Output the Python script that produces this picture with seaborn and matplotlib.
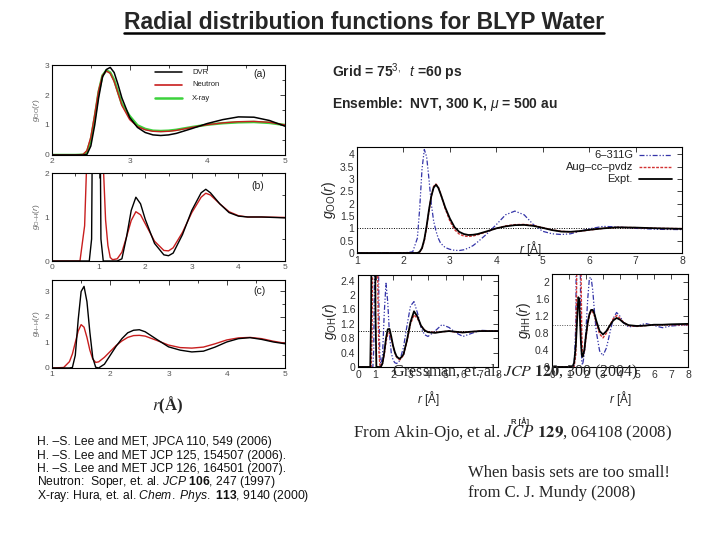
import matplotlib
matplotlib.use('Agg')
import matplotlib.pyplot as plt
import seaborn as sns
from matplotlib.lines import Line2D
from matplotlib.ticker import MultipleLocator, FormatStrFormatter

r_a = [2.0, 2.3, 2.4, 2.45, 2.5, 2.55, 2.6, 2.65, 2.7, 2.75, 2.8, 2.85, 2.9, 3.0,
       3.1, 3.2, 3.3, 3.4, 3.5, 3.6, 3.8, 4.0, 4.2, 4.4, 4.6, 4.8, 5.0]
oo_dvr = [0, 0, 0, 0.02, 0.3, 1.0, 1.9, 2.6, 2.85, 2.92, 2.75, 2.35, 1.9, 1.25,
          0.92, 0.75, 0.67, 0.65, 0.67, 0.72, 0.88, 1.05, 1.18, 1.27, 1.26, 1.15, 0.96]
oo_neutron = [0, 0, 0.02, 0.15, 0.6, 1.35, 2.15, 2.65, 2.8, 2.72, 2.45, 2.05, 1.65, 1.18,
              0.95, 0.84, 0.79, 0.78, 0.79, 0.82, 0.92, 1.01, 1.07, 1.11, 1.12, 1.09, 1.0]
oo_xray = [0, 0, 0.01, 0.1, 0.5, 1.25, 2.1, 2.65, 2.82, 2.75, 2.5, 2.1, 1.7, 1.3,
           0.99, 0.87, 0.81, 0.8, 0.81, 0.84, 0.93, 1.01, 1.06, 1.09, 1.1, 1.07, 1.0]

r_b = [0, 0.6, 0.7, 0.8, 0.85, 0.9, 0.95, 1.0, 1.05, 1.1, 1.15, 1.2, 1.25, 1.3, 1.4,
       1.5, 1.6, 1.7, 1.8, 1.9, 2.0, 2.2, 2.4, 2.5, 2.6, 2.8, 3.0, 3.2, 3.3, 3.4,
       3.6, 3.8, 4.0, 4.2, 4.5, 5.0]
oh_dvr = [0, 0, 0, 0, 0.5, 8, 20, 8, 0.5, 0, 0, 0, 0, 0, 0,
          0.05, 0.55, 1.15, 1.45, 1.3, 0.95, 0.4, 0.14, 0.12, 0.18, 0.6, 1.15, 1.55, 1.63, 1.55,
          1.3, 1.1, 1.02, 1.0, 1.0, 0.98]
oh_neutron = [0, 0, 0.8, 4, 8, 10, 10, 8, 4, 2.2, 0.93, 0.35, 0.08, 0.03, 0.05,
              0.2, 0.55, 0.92, 1.12, 1.05, 0.85, 0.45, 0.24, 0.23, 0.3, 0.65, 1.1, 1.45, 1.54, 1.5,
              1.3, 1.12, 1.03, 1.0, 1.0, 0.99]

r_c = [1.0, 1.2, 1.3, 1.35, 1.4, 1.45, 1.5, 1.55, 1.6, 1.65, 1.7, 1.75, 1.8, 1.9, 2.0,
       2.1, 2.2, 2.3, 2.4, 2.5, 2.6, 2.8, 3.0, 3.2, 3.4, 3.6, 3.8, 4.0, 4.2, 4.4,
       4.6, 4.8, 5.0]
hh_dvr = [0, 0, 0, 0.02, 0.5, 1.9, 3.0, 3.2, 2.6, 1.4, 0.4, 0.03, 0.0, 0.15, 0.5,
          0.85, 1.15, 1.38, 1.48, 1.5, 1.42, 1.12, 0.83, 0.7, 0.63, 0.66, 0.82, 1.02, 1.15, 1.19,
          1.12, 1.02, 0.95]
hh_neutron = [0, 0.02, 0.25, 0.55, 1.0, 1.45, 1.7, 1.6, 1.2, 0.7, 0.35, 0.22, 0.24, 0.42, 0.65,
              0.88, 1.06, 1.2, 1.27, 1.28, 1.25, 1.08, 0.9, 0.8, 0.78, 0.82, 0.95, 1.1, 1.18, 1.2,
              1.15, 1.05, 0.97]

# ---- right column: basis set comparison ----
r_oo = [1.0, 2.0, 2.2, 2.3, 2.35, 2.4, 2.45, 2.5, 2.55, 2.6, 2.65, 2.7, 2.75, 2.8, 2.9,
        3.0, 3.1, 3.2, 3.3, 3.4, 3.5, 3.6, 3.8, 4.0, 4.2, 4.4, 4.6, 4.8, 5.0, 5.2,
        5.4, 5.6, 5.8, 6.0, 6.3, 6.6, 7.0, 7.5, 8.0]
goo_expt = [0, 0, 0, 0, 0.05, 0.2, 0.55, 1.1, 1.75, 2.3, 2.65, 2.77, 2.65, 2.4, 1.85,
            1.4, 1.05, 0.86, 0.77, 0.73, 0.74, 0.77, 0.88, 1.0, 1.08, 1.13, 1.14, 1.1, 1.02, 0.93,
            0.87, 0.86, 0.89, 0.94, 1.0, 1.04, 1.03, 1.0, 0.98]
goo_aug = [0, 0, 0, 0, 0.04, 0.18, 0.5, 1.05, 1.7, 2.3, 2.7, 2.8, 2.68, 2.42, 1.8,
           1.3, 0.95, 0.77, 0.69, 0.67, 0.69, 0.74, 0.87, 1.0, 1.1, 1.15, 1.16, 1.12, 1.03, 0.94,
           0.88, 0.86, 0.88, 0.93, 1.0, 1.04, 1.03, 1.0, 0.99]
goo_small = [0, 0, 0.05, 0.6, 1.8, 3.4, 4.2, 3.9, 3.0, 2.0, 1.3, 0.9, 0.6, 0.4, 0.22,
             0.15, 0.11, 0.1, 0.13, 0.2, 0.3, 0.45, 0.78, 1.15, 1.55, 1.7, 1.55, 1.15, 0.88, 0.78,
             0.75, 0.78, 0.88, 0.98, 1.08, 1.06, 1.0, 0.96, 0.95]

r_oh = [0, 0.7, 0.75, 0.8, 0.85, 0.9, 0.95, 1.0, 1.05, 1.1, 1.15, 1.2, 1.25, 1.3, 1.4,
        1.5, 1.6, 1.7, 1.8, 1.9, 2.0, 2.1, 2.2, 2.3, 2.4, 2.6, 2.8, 3.0, 3.2, 3.4,
        3.6, 3.8, 4.0, 4.4, 4.8, 5.2, 5.6, 6.0, 6.4, 7.0, 8.0]
goh_expt = [0, 0, 1.5, 6, 10, 10, 6, 1.5, 0, 0, 0, 0, 0, 0, 0.1,
            0.4, 0.8, 1.05, 1.06, 0.85, 0.6, 0.42, 0.3, 0.25, 0.23, 0.35, 0.75, 1.25, 1.55, 1.4,
            1.15, 1.02, 0.97, 0.95, 0.98, 1.0, 0.98, 0.96, 0.98, 1.0, 1.0]
goh_aug = [0, 0, 0, 0.8, 4, 8, 10, 10, 8, 4, 1.5, 0.4, 0.05, 0.02, 0.1,
           0.35, 0.7, 0.92, 0.95, 0.8, 0.58, 0.4, 0.28, 0.22, 0.2, 0.33, 0.72, 1.2, 1.45, 1.35,
           1.15, 1.03, 0.98, 0.96, 0.98, 1.0, 0.97, 0.96, 0.98, 1.0, 1.0]
goh_small = [0, 0, 0, 0, 0, 0.5, 3, 8, 10, 8, 4, 1.5, 0.3, 0.05, 0.3,
             1.5, 2.33, 1.8, 0.9, 0.4, 0.2, 0.12, 0.1, 0.12, 0.2, 0.55, 1.15, 1.7, 1.82, 1.5,
             1.1, 0.9, 0.85, 1.0, 1.18, 1.1, 0.95, 0.85, 0.92, 1.02, 1.0]

r_hh = [0, 1.0, 1.2, 1.3, 1.4, 1.45, 1.5, 1.55, 1.6, 1.65, 1.7, 1.75, 1.8, 1.9, 2.0,
        2.1, 2.2, 2.3, 2.4, 2.5, 2.6, 2.8, 3.0, 3.2, 3.4, 3.6, 3.8, 4.0, 4.2, 4.5,
        5.0, 5.5, 6.0, 6.5, 7.0, 8.0]
ghh_expt = [0, 0, 0, 0.1, 0.5, 0.9, 1.3, 1.65, 1.6, 1.1, 0.6, 0.3, 0.24, 0.4, 0.75,
            1.05, 1.25, 1.35, 1.35, 1.25, 1.1, 0.85, 0.77, 0.85, 0.98, 1.1, 1.16, 1.12, 1.05, 0.99,
            0.97, 0.98, 1.0, 1.0, 1.01, 1.02]
ghh_aug = [0, 0, 0, 0, 0.3, 2.0, 6, 10, 10, 6, 2.5, 0.8, 0.25, 0.35, 0.7,
           1.0, 1.22, 1.32, 1.3, 1.2, 1.05, 0.78, 0.69, 0.8, 0.98, 1.14, 1.22, 1.15, 1.06, 0.98,
           0.96, 0.98, 1.0, 1.0, 1.0, 1.0]
ghh_small = [0, 0, 0, 0, 1.0, 4, 9, 10, 7, 3, 0.8, 0.1, 0.05, 0.3, 0.9,
             1.6, 2.1, 2.12, 1.8, 1.3, 0.85, 0.38, 0.27, 0.45, 0.8, 1.15, 1.29, 1.2, 1.05, 0.95,
             0.97, 1.03, 0.98, 0.93, 0.97, 1.0]

references = [
    "H. \u2013S. Lee and MET, JPCA 110, 549 (2006)",
    "H. \u2013S. Lee and MET JCP 125, 154507 (2006).",
    "H. \u2013S. Lee and MET JCP 126, 164501 (2007).",
    "Neutron:  Soper, et. al. $\\mathit{JCP}$ $\\mathbf{106}$, 247 (1997)",
    "X-ray: Hura, et. al. $\\mathit{Chem.}$ $\\mathit{Phys.}$ $\\mathbf{113}$, 9140 (2000)",
]

sns.set_theme(style='white')
plt.rcParams['font.family'] = ['Liberation Sans', 'DejaVu Sans']
plt.rcParams.update({
    'mathtext.fontset': 'custom',
    'mathtext.rm': 'Liberation Sans',
    'mathtext.it': 'Liberation Sans:italic',
    'mathtext.bf': 'Liberation Sans:bold',
})

W, H = 720, 540
fig = plt.figure(figsize=(7.2, 5.4), dpi=100)
fig.patch.set_facecolor('white')


def box(x0, y0, x1, y1):
    return [x0 / W, 1 - y1 / H, (x1 - x0) / W, (y1 - y0) / H]


def at(x, y):
    return x / W, 1 - y / H


def style(ax, xlim, ylim, xmaj, xmin, ymaj, ymin, size, color):
    ax.set_xlim(*xlim)
    ax.set_ylim(*ylim)
    ax.xaxis.set_major_locator(MultipleLocator(xmaj))
    ax.xaxis.set_minor_locator(MultipleLocator(xmin))
    ax.yaxis.set_major_locator(MultipleLocator(ymaj))
    ax.yaxis.set_minor_locator(MultipleLocator(ymin))
    ax.tick_params(which='both', direction='in', top=True, right=True,
                   labelsize=size, labelcolor=color, color='#222', width=0.6, pad=2)
    ax.tick_params(which='major', length=3.5)
    ax.tick_params(which='minor', length=2)
    for s in ax.spines.values():
        s.set_linewidth(0.8)
        s.set_color('black')
    ax.set_xlabel('')
    ax.set_ylabel('')
    ax.set_facecolor('white')


def line(ax, x, y, **kw):
    sns.lineplot(x=x, y=y, ax=ax, legend=False, **kw)


# ---------------- left column ----------------
ax_a = fig.add_axes(box(52, 65, 285, 155))
line(ax_a, r_a, oo_xray, color='#3cd23c', lw=1.8)
line(ax_a, r_a, oo_neutron, color='#c81e1e', lw=1.0)
line(ax_a, r_a, oo_dvr, color='black', lw=1.1)
style(ax_a, (2, 5), (0, 3), 1, 0.5, 1, 0.5, 6, '#555')

ax_b = fig.add_axes(box(52, 173, 285, 261))
line(ax_b, r_b, oh_neutron, color='#c81e1e', lw=1.0)
line(ax_b, r_b, oh_dvr, color='black', lw=1.0)
style(ax_b, (0, 5), (0, 2), 1, 0.5, 1, 0.5, 6, '#555')

ax_c = fig.add_axes(box(52, 280, 285, 368))
line(ax_c, r_c, hh_neutron, color='#c81e1e', lw=1.0)
line(ax_c, r_c, hh_dvr, color='black', lw=1.0)
style(ax_c, (1, 5), (0, 3.45), 1, 0.5, 1, 0.5, 6, '#555')

for ax, lab in [(ax_a, 'OO'), (ax_b, 'O\u2013H'), (ax_c, 'H\u2013H')]:
    ax.set_ylabel('$g_{\\rm %s}(r)$' % lab, fontsize=6, color='#666', labelpad=2)

for ax, tag, (x, y) in [(ax_a, '(a)', (260, 74)), (ax_b, '(b)', (258, 186)), (ax_c, '(c)', (260, 291))]:
    fig.text(*at(x, y), tag, fontsize=7.5, ha='center', va='center', color='#222')

for i, (name, col, lw) in enumerate([('DVR', 'black', 1.1), ('Neutron', '#c81e1e', 1.2),
                                     ('X-ray', '#3cd23c', 1.8)]):
    yy = 72 + 13 * i
    fig.add_artist(Line2D([155 / W, 182 / W], [1 - yy / H] * 2, color=col, lw=lw))
    fig.text(*at(192, yy), name, fontsize=5.5, va='center', color='#222')

fig.text(*at(167, 405), '$r$(\u00c5)', fontsize=12, ha='center', va='center',
         family='Liberation Serif', fontweight='bold', math_fontfamily='stix')

# ---------------- right column ----------------
blue_ls = (0, (4, 1.5, 1, 1.5, 1, 1.5))
red_ls = (0, (2, 1))
blue, red = '#3434a8', '#d23232'

ax_oo = fig.add_axes(box(357, 147, 682, 253))
ax_oo.axhline(1, color='black', lw=0.7, ls=(0, (1, 1.5)))
line(ax_oo, r_oo, goo_small, color=blue, lw=0.9, linestyle=blue_ls)
line(ax_oo, r_oo, goo_aug, color=red, lw=1.0, linestyle=red_ls)
line(ax_oo, r_oo, goo_expt, color='black', lw=1.3)
style(ax_oo, (1, 8), (0, 4.3), 1, 0.5, 0.5, 0.25, 7.5, '#333')
ax_oo.yaxis.set_major_formatter(FormatStrFormatter('%g'))
ax_oo.tick_params(which='minor', length=0)
ax_oo.set_ylabel('$g_{\\rm OO}(r)$', fontsize=10, labelpad=1)

for i, (name, col, ls, lw) in enumerate([('6\u2013311G', blue, blue_ls, 0.9),
                                         ('Aug\u2013cc\u2013pvdz', red, red_ls, 1.0),
                                         ('Expt.', 'black', '-', 1.3)]):
    yy = 155 + 12 * i
    fig.add_artist(Line2D([639 / W, 672 / W], [1 - yy / H] * 2, color=col, lw=lw, ls=ls))
    fig.text(*at(633, yy), name, fontsize=8, ha='right', va='center', color='#222')
fig.text(*at(530, 248), '$r$ [\u00c5]', fontsize=8.5, ha='center', va='center')

ax_oh = fig.add_axes(box(358, 275, 498, 367))
ax_oh.axhline(1, color='black', lw=0.7, ls=(0, (1, 1.5)))
line(ax_oh, r_oh, goh_small, color=blue, lw=0.9, linestyle=blue_ls)
line(ax_oh, r_oh, goh_aug, color=red, lw=1.0, linestyle=red_ls)
line(ax_oh, r_oh, goh_expt, color='black', lw=1.3)
style(ax_oh, (0, 8), (0, 2.56), 1, 1, 0.4, 0.4, 7.5, '#333')
ax_oh.yaxis.set_major_formatter(FormatStrFormatter('%g'))
ax_oh.set_ylabel('$g_{\\rm OH}(r)$', fontsize=10, labelpad=1)

ax_hh = fig.add_axes(box(552, 274, 688, 367))
ax_hh.axhline(1, color='#555', lw=0.7, ls=(0, (1, 1.5)))
line(ax_hh, r_hh, ghh_small, color=blue, lw=0.9, linestyle=blue_ls)
line(ax_hh, r_hh, ghh_aug, color=red, lw=1.0, linestyle=red_ls)
line(ax_hh, r_hh, ghh_expt, color='black', lw=1.3)
style(ax_hh, (0, 8), (0, 2.2), 1, 1, 0.4, 0.4, 7.5, '#333')
ax_hh.yaxis.set_major_formatter(FormatStrFormatter('%g'))
ax_hh.set_ylabel('$g_{\\rm HH}(r)$', fontsize=10, labelpad=1)

for x in (428, 620):
    fig.text(*at(x, 398), '$r$ [\u00c5]', fontsize=8.5, ha='center', va='center', color='#222')
fig.text(*at(520, 422), 'R [\u00c5]', fontsize=5.5, ha='center', va='center',
         fontweight='bold', color='#333')

serif = dict(family='Liberation Serif', math_fontfamily='stix', va='center')
fig.text(*at(392, 372), 'Gressman, et. al. $\\mathit{JCP}$ $\\mathbf{120}$, 300 (2004)',
         fontsize=11.5, **serif)
fig.text(*at(353, 433), 'From Akin-Ojo, et al. $\\mathit{JCP}$ $\\mathbf{129}$, 064108 (2008)',
         fontsize=12.2, **serif)
fig.text(*at(468, 473), 'When basis sets are too small!', fontsize=12, **serif)
fig.text(*at(468, 493), 'from C. J. Mundy (2008)', fontsize=12, **serif)

# ---------------- header text ----------------
fig.text(*at(332, 72), 'Grid = 75$^{3,}$  $\\mathit{t}$ =60 ps', fontsize=10,
         fontweight='bold', va='center')
fig.text(*at(332, 104), 'Ensemble:  NVT, 300 K, $\\mu$ = 500 au', fontsize=10,
         fontweight='bold', va='center')

for i, ref in enumerate(references):
    fig.text(*at(37, 442 + 13.5 * i), ref, fontsize=8.7, va='center', color='#111')

title = fig.text(*at(364, 29), 'Radial distribution functions for BLYP Water',
                 fontsize=16.5, fontweight='bold', ha='center', va='baseline')
renderer = fig.canvas.get_renderer()
bb = title.get_window_extent(renderer)
fig.add_artist(Line2D([bb.x0 / W, bb.x1 / W], [1 - 33 / H] * 2, color='black', lw=1.8))

fig.savefig('out.png', dpi=100)
